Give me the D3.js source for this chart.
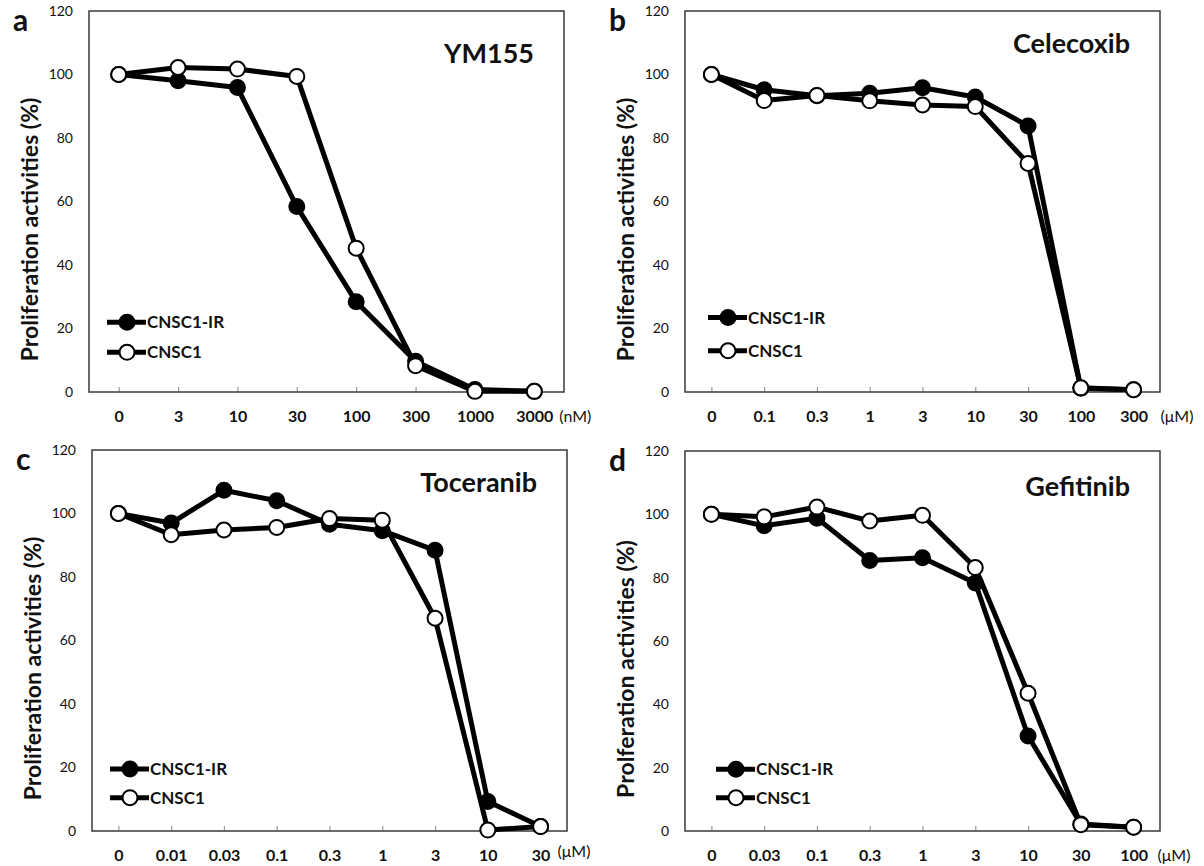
<!doctype html>
<html lang="en">

<head>
    <meta charset="utf-8">
    <title>Proliferation activities</title>
    <script src="https://cdn.jsdelivr.net/npm/d3@7"></script>
    <style>
        body {
            margin: 0;
            background: #fff;
        }

        svg {
            font-family: Lato, "Open Sans", sans-serif;
        }

        .frame {
            fill: none;
            stroke: #3a3a3a;
            stroke-width: 1.5;
        }
    </style>
</head>

<body>
    <div id="chart"></div>

    <script>
        // values
        var panelLetters = ["a", "b", "c", "d"];
        var drugNames = ["YM155", "Celecoxib", "Toceranib", "Gefitinib"];
        var units = ["(nM)", "(\u03bcM)", "(\u03bcM)", "(\u03bcM)"];
        var yTitles = ["Proliferation activities (%)", "Proliferation activities (%)",
            "Proliferation activities (%)", "Prolferation activities (%)"];
        var seriesNames = ["CNSC1-IR", "CNSC1"];
        var yTicks = [0, 20, 40, 60, 80, 100, 120];

        var doses = [
            ["0", "3", "10", "30", "100", "300", "1000", "3000"],
            ["0", "0.1", "0.3", "1", "3", "10", "30", "100", "300"],
            ["0", "0.01", "0.03", "0.1", "0.3", "1", "3", "10", "30"],
            ["0", "0.03", "0.1", "0.3", "1", "3", "10", "30", "100"]
        ];

        var cnsc1IR = [
            [100, 98.0, 95.9, 58.4, 28.4, 9.7, 0.8, 0.2],
            [100, 95.2, 93.3, 94.1, 95.8, 92.9, 83.8, 1.2, 0.7],
            [100, 97.0, 107.3, 104.0, 96.6, 94.6, 88.4, 9.3, 1.4],
            [100, 96.4, 98.8, 85.4, 86.3, 78.3, 30.0, 2.2, 1.2]
        ];

        var cnsc1 = [
            [100, 102.2, 101.7, 99.4, 45.3, 8.3, 0.2, 0.2],
            [100, 91.8, 93.4, 91.7, 90.4, 89.9, 72.0, 1.3, 0.7],
            [100, 93.3, 94.8, 95.6, 98.4, 97.9, 67.0, 0.3, 1.4],
            [100, 99.2, 102.3, 97.9, 99.7, 83.2, 43.5, 2.0, 1.2]
        ];

        var width = 1204, height = 866;

        // frame boxes of the four panels
        var frames = [
            { x0: 89, x1: 564, y0: 11, y1: 392 },
            { x0: 685, x1: 1160, y0: 11, y1: 392 },
            { x0: 92, x1: 567, y0: 450, y1: 831 },
            { x0: 685, x1: 1160, y0: 451, y1: 831 }
        ];
        var unitDx = [25, 27, 17, 24];
        var unitDy = [30, 30, 26, 30];
        var titleDy = [52, 42, 42, 45];

        var svg = d3.select("#chart")
            .append("svg")
            .attr("width", width)
            .attr("height", height);

        frames.forEach(function (f, i) {
            var g = svg.append("g");

            var x = d3.scalePoint().domain(doses[i]).range([f.x0, f.x1]).padding(0.5);
            var y = d3.scaleLinear().domain([0, 120]).range([f.y1, f.y0]);

            // y axis
            var ya = g.append("g")
                .attr("transform", "translate(" + f.x0 + ",0)")
                .call(d3.axisLeft(y).tickValues(yTicks).tickSize(0).tickPadding(16));
            ya.select(".domain").remove();
            ya.selectAll("text")
                .style("font-size", "14px")
                .style("font-family", "Lato, sans-serif")
                .attr("fill", "#111");

            // x axis, ticks pointing inward
            var xa = g.append("g")
                .attr("transform", "translate(0," + f.y1 + ")")
                .call(d3.axisBottom(x).tickSize(-5).tickPadding(19));
            xa.select(".domain").remove();
            xa.selectAll("line").attr("stroke", "#999").attr("stroke-width", 1.2);
            xa.selectAll("text")
                .style("font-size", "16px")
                .style("font-weight", "bold")
                .style("font-family", "Lato, sans-serif")
                .attr("fill", "#111");

            g.append("rect")
                .attr("class", "frame")
                .attr("x", f.x0).attr("y", f.y0)
                .attr("width", f.x1 - f.x0).attr("height", f.y1 - f.y0);

            // unit text
            var last = doses[i][doses[i].length - 1];
            g.append("text")
                .attr("x", x(last) + unitDx[i])
                .attr("y", f.y1 + unitDy[i])
                .style("font-size", "16px")
                .attr("fill", "#111")
                .text(units[i]);

            // y title
            var cy = (f.y0 + f.y1) / 2 + 28;
            g.append("text")
                .attr("transform", "translate(" + (f.x0 - 51) + "," + cy + ") rotate(-90)")
                .attr("text-anchor", "middle")
                .style("font-size", "23px")
                .style("font-weight", "bold")
                .attr("fill", "#111")
                .text(yTitles[i]);

            // panel letter
            g.append("text")
                .attr("x", f.x0 - 76)
                .attr("y", f.y0 + 20)
                .style("font-size", "30px")
                .style("font-weight", "bold")
                .attr("fill", "#111")
                .text(panelLetters[i]);

            // drug name
            g.append("text")
                .attr("x", f.x1 - 30)
                .attr("y", f.y0 + titleDy[i])
                .attr("text-anchor", "end")
                .style("font-size", "27px")
                .style("font-weight", "bold")
                .attr("fill", "#111")
                .text(drugNames[i]);

            var line = d3.line()
                .x(function (d, j) { return x(doses[i][j]); })
                .y(function (d) { return y(d); });

            [cnsc1IR[i], cnsc1[i]].forEach(function (vals, s) {
                g.append("path")
                    .datum(vals)
                    .attr("d", line)
                    .attr("fill", "none")
                    .attr("stroke", "#000")
                    .attr("stroke-width", 5)
                    .attr("stroke-linejoin", "round");

                g.selectAll(".pt" + s)
                    .data(vals)
                    .enter()
                    .append("circle")
                    .attr("class", "pt" + s)
                    .attr("cx", function (d, j) { return x(doses[i][j]); })
                    .attr("cy", function (d) { return y(d); })
                    .attr("r", 7.5)
                    .attr("fill", s === 0 ? "#000" : "#fff")
                    .attr("stroke", "#000")
                    .attr("stroke-width", 2);
            });

            // legend
            var lx = f.x0 + 18;
            var ly = [y(22), y(12.5)];
            if (i >= 2) ly = [y(19.5), y(10.5)];
            if (i === 1) ly = [y(23.5), y(13)];
            if (i === 3) lx = f.x0 + 31;
            if (i === 1) lx = f.x0 + 23;
            seriesNames.forEach(function (name, s) {
                var lg = g.append("g").attr("transform", "translate(" + lx + "," + ly[s] + ")");
                lg.append("line")
                    .attr("x1", 0).attr("x2", 39)
                    .attr("stroke", "#000").attr("stroke-width", 5);
                lg.append("circle")
                    .attr("cx", 20).attr("r", 7.5)
                    .attr("fill", s === 0 ? "#000" : "#fff")
                    .attr("stroke", "#000").attr("stroke-width", 2);
                lg.append("text")
                    .attr("x", 40)
                    .attr("dy", "0.36em")
                    .style("font-size", "17px")
                    .style("font-weight", "bold")
                    .attr("fill", "#111")
                    .text(name);
            });
        });
    </script>
</body>

</html>
